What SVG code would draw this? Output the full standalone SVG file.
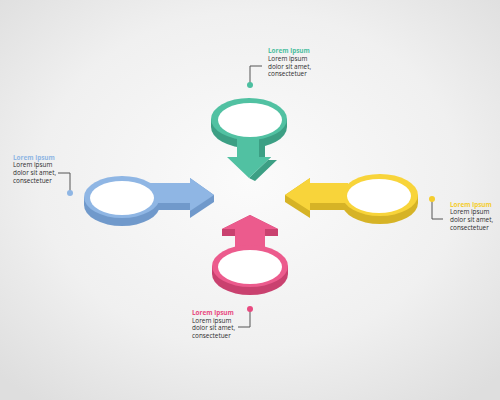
<svg xmlns="http://www.w3.org/2000/svg" width="500" height="400" viewBox="0 0 500 400">
<defs>
<radialGradient id="bg" cx="50%" cy="45%" r="70%">
<stop offset="0" stop-color="#fbfbfb"/>
<stop offset="0.6" stop-color="#f0f0f0"/>
<stop offset="1" stop-color="#dedede"/>
</radialGradient>
<style>
.t{font-family:"Open Sans","Liberation Sans",sans-serif;font-size:6.4px;fill:#2b2b2b}
.h{font-weight:bold}
.lead{fill:none;stroke:#555;stroke-width:1}
.hole{fill:#ffffff}
</style>
</defs>
<rect width="500" height="400" fill="url(#bg)"/>

<g id="node-green">
<path d="M211,119 L211,127 A38,21 0 0 0 287,127 L287,119 Z" fill="#3c9f84"/>
<polygon points="259,138 265,141 265,160 277,160 255,181 249,178 271,157 259,157" fill="#3c9f84"/>
<polygon points="237,136 259,136 259,157 271,157 249,178 227,157 237,157" fill="#51c1a2"/>
<ellipse cx="249" cy="119" rx="38" ry="21" fill="#51c1a2"/>
<ellipse class="hole" cx="250" cy="120" rx="32" ry="17"/>
</g>

<g id="node-blue">
<path d="M84,197 L84,205 A38,21 0 0 0 160,205 L160,197 Z" fill="#7099cb"/>
<polygon points="150,183 190,183 190,178 214,195 214,202 190,218 190,210 150,210" fill="#7099cb"/>
<polygon points="150,183 190,183 190,178 214,195 190,211 190,203 150,203" fill="#8fb6e4"/>
<ellipse cx="122" cy="197" rx="38" ry="21" fill="#8fb6e4"/>
<ellipse class="hole" cx="122" cy="198" rx="32" ry="17"/>
</g>

<g id="node-yellow">
<path d="M342,195 L342,203 A38,21 0 0 0 418,203 L418,195 Z" fill="#d6b326"/>
<polygon points="348,183 310,183 310,178 285,195 285,202 310,218 310,210 348,210" fill="#d6b326"/>
<polygon points="348,183 310,183 310,178 285,195 310,211 310,203 348,203" fill="#f8d43a"/>
<ellipse cx="380" cy="195" rx="38" ry="21" fill="#f8d43a"/>
<ellipse class="hole" cx="379" cy="196" rx="32" ry="17"/>
</g>

<g id="node-pink">
<path d="M212,266 L212,274 A38,21 0 0 0 288,274 L288,266 Z" fill="#c9416f"/>
<polygon points="250,215 278,229 278,236 265,236 265,255 235,255 235,236 222,236 222,229" fill="#c9416f"/>
<polygon points="250,215 278,229 265,229 265,255 235,255 235,229 222,229" fill="#ec5b8d"/>
<ellipse cx="250" cy="266" rx="38" ry="21" fill="#ec5b8d"/>
<ellipse class="hole" cx="250" cy="267" rx="32" ry="17"/>
</g>

<g id="connectors">
<polyline class="lead" points="262,66 250,66 250,85"/>
<circle cx="250" cy="85" r="3" fill="#4cbfa0"/>
<polyline class="lead" points="58,173 70,173 70,193"/>
<circle cx="70" cy="193" r="3" fill="#8fb6e4"/>
<polyline class="lead" points="432,199 432,219 443,219"/>
<circle cx="432" cy="199" r="3" fill="#f5cd2d"/>
<polyline class="lead" points="250,309 250,327 238,327"/>
<circle cx="250" cy="309" r="3" fill="#e84a80"/>
</g>

<g id="label-green">
<text x="268" y="53" class="t h" style="fill:#4cbfa0">Lorem ipsum</text>
<text x="268" y="60.8" class="t">Lorem ipsum</text>
<text x="268" y="68.5" class="t">dolor sit amet,</text>
<text x="268" y="76.2" class="t">consectetuer</text>
</g>
<g id="label-blue">
<text x="13" y="159.5" class="t h" style="fill:#8fb6e4">Lorem ipsum</text>
<text x="13" y="167.2" class="t">Lorem ipsum</text>
<text x="13" y="174.9" class="t">dolor sit amet,</text>
<text x="13" y="182.6" class="t">consectetuer</text>
</g>
<g id="label-yellow">
<text x="450" y="206.7" class="t h" style="fill:#f5cd2d">Lorem ipsum</text>
<text x="450" y="214.4" class="t">Lorem ipsum</text>
<text x="450" y="222.1" class="t">dolor sit amet,</text>
<text x="450" y="229.8" class="t">consectetuer</text>
</g>
<g id="label-pink">
<text x="192" y="315" class="t h" style="fill:#e84a80">Lorem ipsum</text>
<text x="192" y="322.6" class="t">Lorem ipsum</text>
<text x="192" y="330.2" class="t">dolor sit amet,</text>
<text x="192" y="337.8" class="t">consectetuer</text>
</g>
</svg>
